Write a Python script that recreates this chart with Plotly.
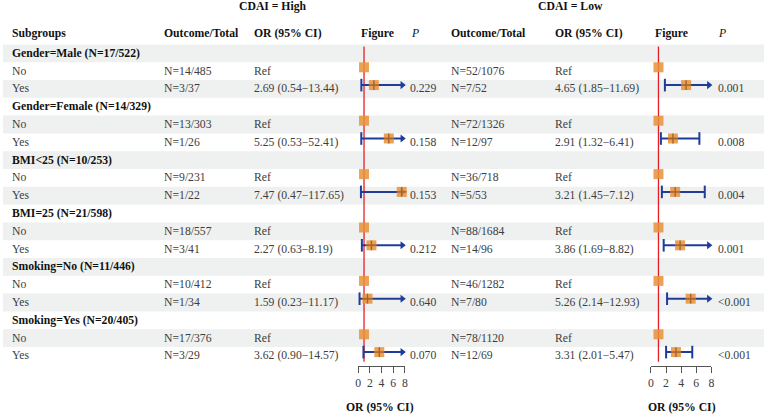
import plotly.graph_objects as go

# ---------------- data ----------------
groups = ["Gender=Male (N=17/522)", "Gender=Female (N=14/329)", "BMI<25 (N=10/253)",
          "BMI=25 (N=21/598)", "Smoking=No (N=11/446)", "Smoking=Yes (N=20/405)"]
level_labels = ["No", "Yes"]

high_no_counts = ["N=14/485", "N=13/303", "N=9/231", "N=18/557", "N=10/412", "N=17/376"]
high_yes_counts = ["N=3/37", "N=1/26", "N=1/22", "N=3/41", "N=1/34", "N=3/29"]
high_or = [2.69, 5.25, 7.47, 2.27, 1.59, 3.62]
high_lo = [0.54, 0.53, 0.47, 0.63, 0.23, 0.90]
high_hi = [13.44, 52.41, 117.65, 8.19, 11.17, 14.57]
high_p = ["0.229", "0.158", "0.153", "0.212", "0.640", "0.070"]

low_no_counts = ["N=52/1076", "N=72/1326", "N=36/718", "N=88/1684", "N=46/1282", "N=78/1120"]
low_yes_counts = ["N=7/52", "N=12/97", "N=5/53", "N=14/96", "N=7/80", "N=12/69"]
low_or = [4.65, 2.91, 3.21, 3.86, 5.26, 3.31]
low_lo = [1.85, 1.32, 1.45, 1.69, 2.14, 2.01]
low_hi = [11.69, 6.41, 7.12, 8.82, 12.93, 5.47]
low_p = ["0.001", "0.008", "0.004", "0.001", "<0.001", "<0.001"]

ref_value = 1
axis_ticks = [0, 2, 4, 6, 8]
axis_max = 8

# ---------------- layout constants ----------------
W, H = 767, 415
FONT = "Liberation Serif"
FS = 11.7
TXT = "#3d3d3d"
BLK = "#111111"
SHADE = "#EEF1F0"
ORANGE = "rgba(232,146,58,0.85)"
CROSS = "#A5642C"
BLUE = "#1F3C9A"
RED = "#E51E25"

row0 = 53.3
row_h = 17.8
forest_off = -3.8
n_rows = len(groups) * 3

left_axis_px = (358.0, 405.0)
right_axis_px = (653.0, 714.0)
axis_line_y = 366.0

def ry(i):
    return row0 + i * row_h

def px(x):
    return x / W

fig = go.Figure()
ann = []
shapes = []

def text(x, y, s, bold=False, color=TXT, anchor="left", italic=False):
    if bold:
        s = "<b>" + s + "</b>"
    if italic:
        s = "<i>" + s + "</i>"
    ann.append(dict(x=px(x), y=y, xref="paper", yref="y", text=s, showarrow=False,
                    xanchor=anchor, yanchor="middle", borderpad=0,
                    font=dict(family=FONT, size=FS, color=color)))

# shading
for i in range(n_rows):
    if i % 2 == 0:
        shapes.append(dict(type="rect", xref="paper", yref="y", x0=0, x1=1,
                           y0=ry(i) - row_h / 2, y1=ry(i) + row_h / 2,
                           fillcolor=SHADE, line=dict(width=0), layer="below"))

# titles & headers
text(272, 6, "CDAI = High", bold=True, color=BLK, anchor="center")
text(572, 6, "CDAI = Low", bold=True, color=BLK, anchor="center")
hy = 33.5
for x, s in [(8.5, "Subgroups"), (161, "Outcome/Total"), (251.5, "OR (95% CI)"), (359.5, "Figure"),
             (451, "Outcome/Total"), (555, "OR (95% CI)"), (656.5, "Figure")]:
    text(x, hy, s, bold=True, color=BLK)
text(410.5, hy, "P", italic=True, color=BLK)
text(720, hy, "P", italic=True, color=BLK)
text(380, 407, "OR (95% CI)", bold=True, color=BLK, anchor="center")
text(684, 407, "OR (95% CI)", bold=True, color=BLK, anchor="center")

def fmt(o, l, h):
    return f"{o:.2f} ({l:.2f}\u2212{h:.2f})"

for g in range(len(groups)):
    ih, ino, iyes = 3 * g, 3 * g + 1, 3 * g + 2
    text(8.5, ry(ih), groups[g], bold=True, color=BLK)
    text(8.5, ry(ino), level_labels[0])
    text(8.5, ry(iyes), level_labels[1])
    text(161, ry(ino), high_no_counts[g])
    text(161, ry(iyes), high_yes_counts[g])
    text(251.5, ry(ino), "Ref")
    text(251.5, ry(iyes), fmt(high_or[g], high_lo[g], high_hi[g]))
    text(409.5, ry(iyes), high_p[g])
    text(451, ry(ino), low_no_counts[g])
    text(451, ry(iyes), low_yes_counts[g])
    text(555, ry(ino), "Ref")
    text(555, ry(iyes), fmt(low_or[g], low_lo[g], low_hi[g]))
    text(719.5, ry(iyes), low_p[g])

# forest panels
def forest(xa, ors, los, his, axis_px):
    ppu = (axis_px[1] - axis_px[0]) / axis_max
    tri_size = 7
    tip_units = axis_max + 1.5 / ppu
    tri_center = tip_units - (tri_size / 3 ** 0.5) / ppu
    y_top = ry(0) - row_h / 2 + 2
    y_bot = ry(n_rows - 1) + row_h / 2 - 3
    fig.add_trace(go.Scatter(x=[ref_value, ref_value], y=[y_top, y_bot], mode="lines",
                             line=dict(color=RED, width=1.3), xaxis=xa, yaxis="y",
                             hoverinfo="skip", showlegend=False, cliponaxis=False))
    ref_y, yes_y = [], []
    for g in range(len(ors)):
        yn = ry(3 * g + 1) + forest_off
        yy = ry(3 * g + 2) + forest_off
        ref_y.append(yn)
        yes_y.append(yy)
        arrow = his[g] > axis_max
        end = tri_center if arrow else his[g]
        fig.add_trace(go.Scatter(x=[los[g], end], y=[yy, yy], mode="lines",
                                 line=dict(color=BLUE, width=2), xaxis=xa, yaxis="y",
                                 hoverinfo="skip", showlegend=False, cliponaxis=False))
        caps = [los[g]] if arrow else [los[g], his[g]]
        fig.add_trace(go.Scatter(x=caps, y=[yy] * len(caps), mode="markers",
                                 marker=dict(symbol="line-ns-open", size=9, color=BLUE,
                                             line=dict(color=BLUE, width=2)),
                                 xaxis=xa, yaxis="y", hoverinfo="skip", showlegend=False,
                                 cliponaxis=False))
        if arrow:
            fig.add_trace(go.Scatter(x=[tri_center], y=[yy], mode="markers",
                                     marker=dict(symbol="triangle-right", size=tri_size,
                                                 color=BLUE, line=dict(width=0)),
                                     xaxis=xa, yaxis="y", hoverinfo="skip", showlegend=False,
                                     cliponaxis=False))
    fig.add_trace(go.Scatter(x=[ref_value] * len(ref_y) + list(ors), y=ref_y + yes_y,
                             mode="markers",
                             marker=dict(symbol="square", size=10, color=ORANGE, line=dict(width=0)),
                             xaxis=xa, yaxis="y", hoverinfo="skip", showlegend=False,
                             cliponaxis=False))
    fig.add_trace(go.Scatter(x=list(ors), y=yes_y, mode="markers",
                             marker=dict(symbol="cross-thin-open", size=7, color=CROSS,
                                         line=dict(color=CROSS, width=1.4)),
                             xaxis=xa, yaxis="y", hoverinfo="skip", showlegend=False,
                             cliponaxis=False))

forest("x", high_or, high_lo, high_hi, left_axis_px)
forest("x2", low_or, low_lo, low_hi, right_axis_px)

axis_common = dict(range=[0, axis_max], tickvals=axis_ticks, ticktext=[str(t) for t in axis_ticks],
                   ticks="outside", ticklen=6, tickwidth=1, tickcolor="#555555",
                   showline=True, linecolor="#555555", linewidth=1, showgrid=False,
                   zeroline=False, anchor="free", position=1 - axis_line_y / H,
                   tickfont=dict(family=FONT, size=FS, color=TXT), fixedrange=True)

fig.update_layout(
    width=W, height=H, autosize=False,
    margin=dict(l=0, r=0, t=0, b=0),
    paper_bgcolor="white", plot_bgcolor="rgba(0,0,0,0)",
    xaxis=dict(domain=[left_axis_px[0] / W, left_axis_px[1] / W], **axis_common),
    xaxis2=dict(domain=[right_axis_px[0] / W, right_axis_px[1] / W], **axis_common),
    yaxis=dict(range=[H, 0], domain=[0, 1], visible=False, fixedrange=True),
    annotations=ann, shapes=shapes, showlegend=False,
)

fig.write_html("out.html", config={"displayModeBar": False},
               post_script="document.body.style.margin='0';document.body.style.overflow='hidden';")
